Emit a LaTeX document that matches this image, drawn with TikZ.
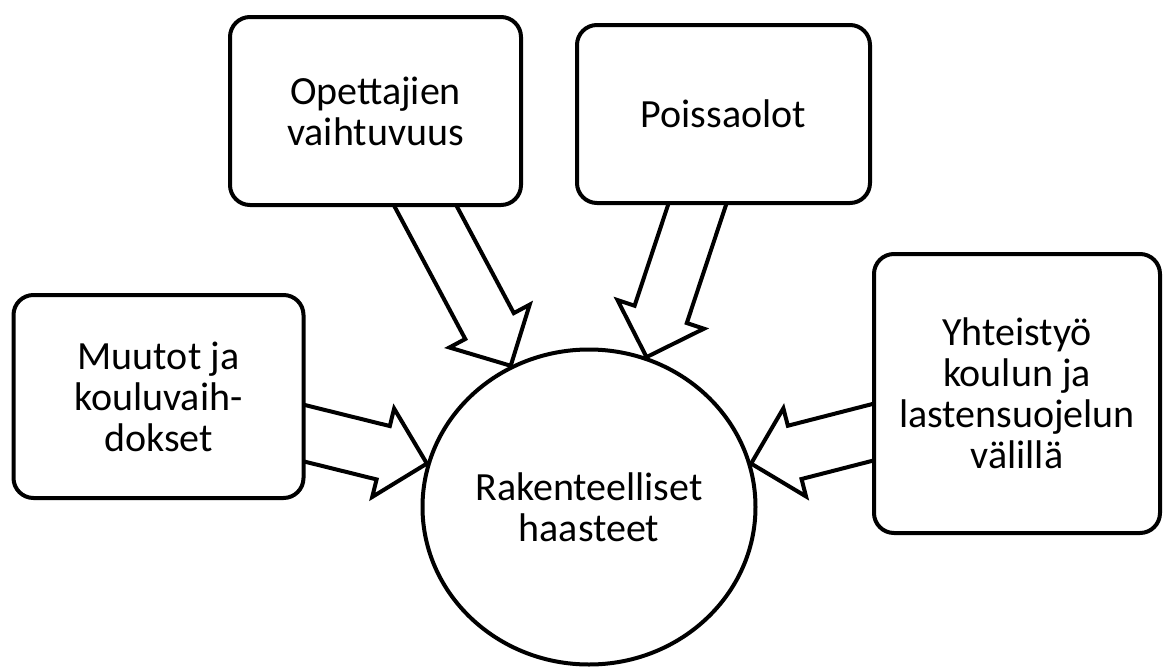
\documentclass[tikz,border=0pt]{standalone}
\usepackage{fontspec}
\setmainfont{Carlito}
\usetikzlibrary{shapes.geometric, positioning, calc, backgrounds}

\tikzset{
  laatikko/.style={draw, line width=2pt, rounded corners=10pt, fill=white, align=center, inner sep=0pt},
  pallo/.style={draw, ellipse, line width=2pt, fill=white, align=center, inner sep=0pt},
  blokki/.style={draw, line width=2pt, fill=white, line join=miter},
}

% block arrow from #1 to tip #2
\newcommand{\nuoli}[2]{%
  \path ($(#1)!-10pt!(#2)$) coordinate (na)
        ($(#2)!22.5pt!(#1)$) coordinate (nh);
  \draw[blokki] ($(na)!13.75pt!90:(#2)$) -- ($(nh)!13.75pt!90:(#2)$)
    -- ($(nh)!22.75pt!90:(#2)$) -- (#2)
    -- ($(nh)!22.75pt!-90:(#2)$) -- ($(nh)!13.75pt!-90:(#2)$)
    -- ($(na)!13.75pt!-90:(#2)$) -- cycle;
}

\begin{document}
\begin{tikzpicture}[x=0.5pt, y=-0.5pt, font=\fontsize{20}{20.5}\selectfont]
  \useasboundingbox (0,0) rectangle (1164,670);

  \node[pallo, minimum width=166.5pt, minimum height=157.5pt] (haaste) at (589,507) {Rakenteelliset\\haasteet};
  \node[laatikko, minimum width=145pt, minimum height=101.5pt] (muutot) at (158.5,396.5) {Muutot ja\\kouluvaih-\\dokset};
  \node[laatikko, minimum width=145.5pt, minimum height=94pt] (opettajat) at (375.5,111) {Opettajien\\vaihtuvuus};
  \node[laatikko, minimum width=146.5pt, minimum height=89pt] (poissa) at (723.5,114) {Poissaolot};
  \node[laatikko, minimum width=143pt, minimum height=139.5pt] (yhteistyo) at (1017,393.5) {Yhteistyö\\koulun ja\\lastensuojelun\\välillä};

  \coordinate (m1) at ($(muutot.east)+(0,37)$);
  \coordinate (o1) at ($(opettajat.south)+(50.5,0)$);
  \coordinate (p1) at ($(poissa.south)+(-26.5,0)$);
  \coordinate (y1) at ($(yhteistyo.west)+(0,39)$);

  \begin{scope}[on background layer]
    \nuoli{m1}{haaste.165}
    \nuoli{o1}{haaste.119}
    \nuoli{p1}{haaste.69}
    \nuoli{y1}{haaste.15}
  \end{scope}
\end{tikzpicture}
\end{document}
